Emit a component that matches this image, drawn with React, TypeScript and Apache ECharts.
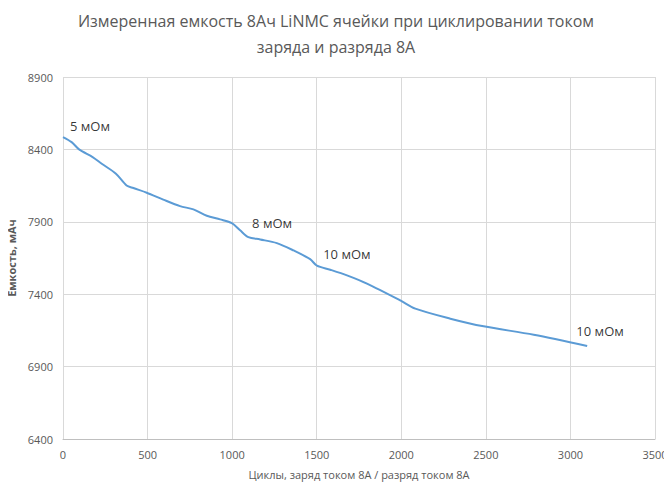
import React, { useEffect, useRef } from "react";
import * as echarts from "echarts";

const cycles = [0, 51, 97, 175, 229, 313, 376, 416, 495, 593, 692, 771, 850, 929, 998, 1047, 1096, 1166, 1264, 1363, 1461, 1501, 1580, 1679, 1797, 1994, 2083, 2290, 2487, 2783, 3099];
const capacity = [8485, 8450, 8398, 8347, 8301, 8232, 8151, 8133, 8101, 8053, 8008, 7986, 7942, 7917, 7891, 7841, 7794, 7778, 7753, 7702, 7642, 7597, 7569, 7530, 7473, 7357, 7300, 7231, 7178, 7120, 7042];
const noteX = [41, 1118, 1538, 3035];
const noteY = [8559, 7889, 7675, 7143];
const noteText = ["5 мОм", "8 мОм", "10 мОм", "10 мОм"];

const FONT = "'Open Sans', 'Liberation Sans', sans-serif";

export default function App() {
  const ref = useRef<HTMLDivElement>(null);
  useEffect(() => {
    if (!ref.current) return;
    const chart = echarts.init(ref.current, undefined, { renderer: "svg" });
    chart.setOption({
      animation: false,
      textStyle: { fontFamily: FONT },
      title: {
        text: "Измеренная емкость 8Ач LiNMC ячейки при циклировании током\nзаряда и разряда 8А",
        left: "center",
        top: 3,
        textStyle: { fontSize: 16, fontWeight: "normal", color: "#595959", lineHeight: 26, fontFamily: FONT },
      },
      grid: { left: 63, right: 17, top: 77, bottom: 51, containLabel: false, outerBoundsMode: "none" },
      xAxis: {
        type: "value",
        min: 0,
        max: 3500,
        interval: 500,
        name: "Циклы, заряд током 8А / разряд током 8А",
        nameLocation: "middle",
        nameGap: 30,
        nameTextStyle: { fontSize: 11, color: "#595959" },
        axisLine: { show: true, lineStyle: { color: "#bfbfbf" } },
        axisTick: { show: false },
        axisLabel: { fontSize: 11, color: "#595959", margin: 10, formatter: (v: number) => String(v) },
        splitLine: { show: true, lineStyle: { color: "#d9d9d9" } },
      },
      yAxis: {
        type: "value",
        min: 6400,
        max: 8900,
        interval: 500,
        name: "Емкость, мАч",
        nameLocation: "middle",
        nameGap: 36,
        nameTextStyle: { fontSize: 11, color: "#595959", fontWeight: "bold" },
        axisLine: { show: false },
        axisTick: { show: false },
        axisLabel: { fontSize: 11, color: "#595959", margin: 10, formatter: (v: number) => String(v) },
        splitLine: { show: true, lineStyle: { color: "#d9d9d9" } },
      },
      series: [
        {
          type: "line",
          data: cycles.map((c, i) => [c, capacity[i]]),
          smooth: 0.3,
          symbol: "none",
          lineStyle: { color: "#5b9bd5", width: 2 },
        },
        {
          type: "scatter",
          symbolSize: 0,
          data: noteX.map((x, i) => ({ value: [x, noteY[i]], name: noteText[i] })),
          label: {
            show: true,
            position: [0, 0],
            align: "left",
            verticalAlign: "middle",
            formatter: (p: any) => p.name,
            fontSize: 13,
            color: "#000",
            fontFamily: FONT,
          },
          silent: true,
        },
      ],
    });
    return () => chart.dispose();
  }, []);
  return <div ref={ref} style={{ width: 672, height: 490, margin: -8 }} />;
}
